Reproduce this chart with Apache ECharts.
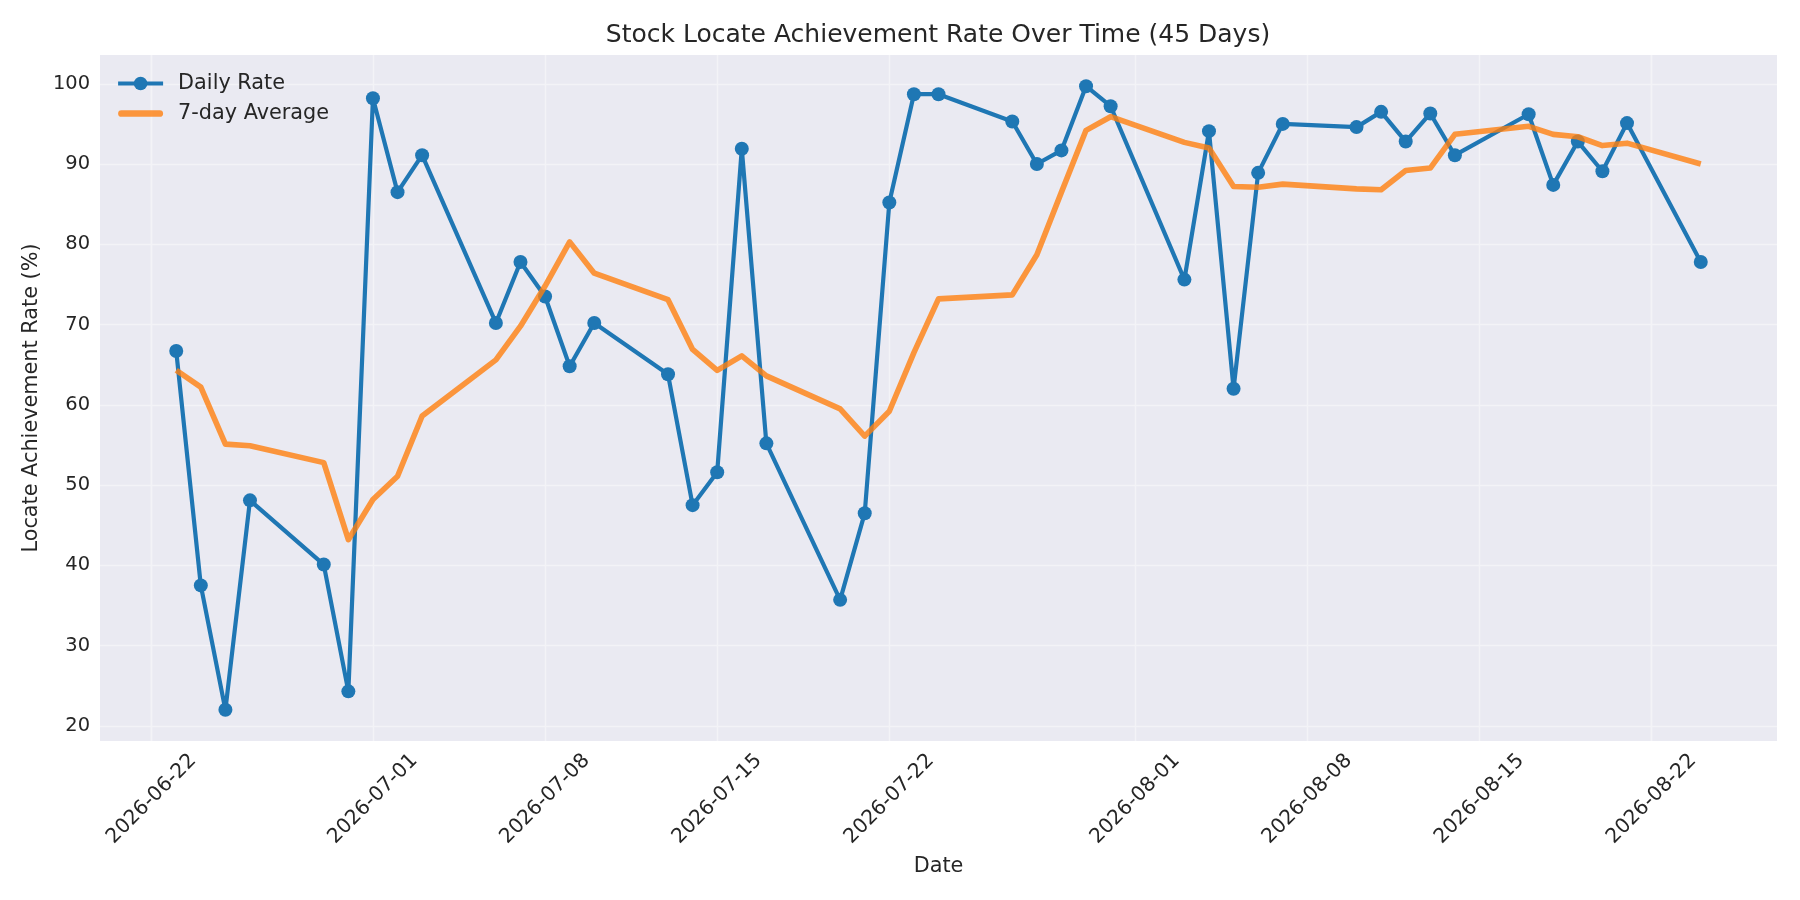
<!DOCTYPE html>
<html>
<head>
<meta charset="utf-8">
<script src="https://cdn.jsdelivr.net/npm/echarts@6/dist/echarts.min.js"></script>
<style>
  html, body { margin: 0; padding: 0; background: #fff; }
  #chart { width: 1800px; height: 900px; }
</style>
</head>
<body>
<div id="chart"></div>
<script>
const dates = ['2026-06-23','2026-06-24','2026-06-25','2026-06-26','2026-06-29','2026-06-30',
  '2026-07-01','2026-07-02','2026-07-03','2026-07-06','2026-07-07','2026-07-08','2026-07-09','2026-07-10',
  '2026-07-13','2026-07-14','2026-07-15','2026-07-16','2026-07-17','2026-07-20','2026-07-21','2026-07-22',
  '2026-07-23','2026-07-24','2026-07-27','2026-07-28','2026-07-29','2026-07-30','2026-07-31',
  '2026-08-03','2026-08-04','2026-08-05','2026-08-06','2026-08-07','2026-08-10','2026-08-11','2026-08-12',
  '2026-08-13','2026-08-14','2026-08-17','2026-08-18','2026-08-19','2026-08-20','2026-08-21','2026-08-24'];

const dailyRate = [66.7, 37.5, 22.0, 48.1, 40.1, 24.3, 98.2, 86.5, 91.1, 70.2,
  77.8, 73.5, 64.8, 70.2, 63.8, 47.5, 51.6, 91.9, 55.2, 35.7,
  46.5, 85.2, 98.7, 98.7, 95.3, 90.0, 91.7, 99.7, 97.2, 75.6,
  94.1, 62.0, 88.9, 95.0, 94.6, 96.5, 92.8, 96.3, 91.1, 96.2,
  87.4, 92.8, 89.1, 95.1, 77.8];

const avg7 = [64.3, 62.2, 55.1, 54.9, 52.8, 43.2, 48.2, 51.1, 58.6, 65.6,
  69.8, 74.8, 80.3, 76.4, 73.1, 66.9, 64.3, 66.1, 63.6, 59.5,
  56.1, 59.2, 66.5, 73.2, 73.7, 78.7, 86.5, 94.2, 95.9, 92.7,
  92.0, 87.2, 87.1, 87.5, 86.9, 86.8, 89.2, 89.5, 93.7, 94.7,
  93.7, 93.4, 92.3, 92.6, 90.0];

const xTicks = ['2026-06-22','2026-07-01','2026-07-08','2026-07-15','2026-07-22',
  '2026-08-01','2026-08-08','2026-08-15','2026-08-22'];
const yTicks = [20, 30, 40, 50, 60, 70, 80, 90, 100];

const ts = s => echarts.time.parse(s).getTime();
const FONT = 'DejaVu Sans';
const TEXT = '#262626';
const BLUE = '#1f77b4';
const ORANGE = '#ff7f0e';

// matplotlib style 5% margins
const t0 = ts(dates[0]), t1 = ts(dates[dates.length - 1]);
const allVals = dailyRate.concat(avg7);
const vMin = Math.min(...allVals), vMax = Math.max(...allVals);

const chart = echarts.init(document.getElementById('chart'), null, { renderer: 'canvas' });

const option = {
  animation: false,
  backgroundColor: '#ffffff',
  title: {
    text: 'Stock Locate Achievement Rate Over Time (45 Days)',
    left: 938, top: 23, padding: 0,
    textAlign: 'center',
    textStyle: { fontFamily: FONT, fontSize: 25, fontWeight: 'normal', color: TEXT }
  },
  legend: {
    orient: 'vertical',
    left: 116, top: 73, padding: 0,
    itemWidth: 45, itemHeight: 17, itemGap: 9,
    symbolKeepAspect: true,
    textStyle: { fontFamily: FONT, fontSize: 20.8, color: TEXT, padding: [0, 0, 0, 10] },
    data: [
      { name: 'Daily Rate', lineStyle: { width: 4.2, color: BLUE } },
      {
        name: '7-day Average',
        icon: 'path://M3.35,0 L41.65,0 A3.35,3.35 0 0 1 41.65,6.7 L3.35,6.7 A3.35,3.35 0 0 1 3.35,0 Z',
        itemStyle: { color: ORANGE, opacity: 0.8 }
      }
    ]
  },
  grid: {
    left: 100, right: 23, top: 55, bottom: 159,
    show: true, backgroundColor: '#EAEAF2', borderWidth: 0
  },
  xAxis: {
    type: 'time',
    min: t0 - 0.05 * (t1 - t0),
    max: t1 + 0.05 * (t1 - t0),
    name: 'Date',
    nameLocation: 'middle',
    nameGap: 115,
    nameTextStyle: { fontFamily: FONT, fontSize: 20.8, color: TEXT },
    axisLine: { show: false },
    axisTick: { show: false, customValues: xTicks.map(ts) },
    axisLabel: {
      customValues: xTicks.map(ts),
      rotate: 45,
      align: 'center',
      verticalAlign: 'middle',
      margin: 58,
      fontFamily: FONT, fontSize: 20.2, color: TEXT,
      formatter: '{yyyy}-{MM}-{dd}'
    },
    splitLine: { show: true, lineStyle: { color: '#F3F3F7', width: 1.4 } }
  },
  yAxis: {
    type: 'value',
    min: vMin - 0.05 * (vMax - vMin),
    max: vMax + 0.05 * (vMax - vMin),
    name: 'Locate Achievement Rate (%)',
    nameLocation: 'middle',
    nameGap: 58,
    nameTextStyle: { fontFamily: FONT, fontSize: 20.8, color: TEXT },
    axisLine: { show: false },
    axisTick: { show: false, customValues: yTicks },
    axisLabel: {
      customValues: yTicks,
      margin: 10,
      fontFamily: FONT, fontSize: 19.44, color: TEXT
    },
    splitLine: { show: true, lineStyle: { color: '#F3F3F7', width: 1.4 } }
  },
  series: [
    {
      name: 'Daily Rate',
      type: 'line',
      data: dates.map((d, i) => [ts(d), dailyRate[i]]),
      symbol: 'circle',
      symbolSize: 14,
      showSymbol: true,
      lineStyle: { color: BLUE, width: 4.2, join: 'round' },
      itemStyle: { color: BLUE },
      z: 2
    },
    {
      name: '7-day Average',
      type: 'line',
      data: dates.map((d, i) => [ts(d), avg7[i]]),
      symbol: 'none',
      lineStyle: { color: ORANGE, width: 5.6, opacity: 0.8, join: 'round' },
      itemStyle: { color: ORANGE, opacity: 0.8 },
      z: 3
    }
  ]
};

chart.setOption(option);
</script>
</body>
</html>
